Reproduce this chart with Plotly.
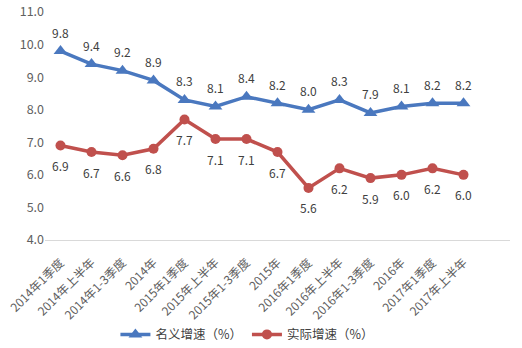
import plotly.graph_objects as go

categories = ["2014年1季度", "2014年上半年", "2014年1-3季度", "2014年",
              "2015年1季度", "2015年上半年", "2015年1-3季度", "2015年",
              "2016年1季度", "2016年上半年", "2016年1-3季度", "2016年",
              "2017年1季度", "2017年上半年"]
nominal = [9.8, 9.4, 9.2, 8.9, 8.3, 8.1, 8.4, 8.2, 8.0, 8.3, 7.9, 8.1, 8.2, 8.2]
real = [6.9, 6.7, 6.6, 6.8, 7.7, 7.1, 7.1, 6.7, 5.6, 6.2, 5.9, 6.0, 6.2, 6.0]
y_ticks = [4.0, 5.0, 6.0, 7.0, 8.0, 9.0, 10.0, 11.0]

FONT = "Noto Sans CJK SC"
BLUE = "#4a78bf"
RED = "#c0504d"
TXT = "#404040"
AXIS_TXT = "#606060"

x_idx = list(range(len(categories)))

fig = go.Figure()
fig.add_trace(go.Scatter(
    x=x_idx, y=nominal, name="名义增速（%）", mode="lines+markers",
    line=dict(color=BLUE, width=3.5),
    marker=dict(symbol="triangle-up", size=12, color=BLUE),
))
fig.add_trace(go.Scatter(
    x=x_idx, y=real, name="实际增速（%）", mode="lines+markers",
    line=dict(color=RED, width=3.5),
    marker=dict(symbol="circle", size=10, color=RED),
))

# value labels: nominal above, real below
for i, v in enumerate(nominal):
    fig.add_annotation(x=i, y=v, text=f"{v:.1f}", showarrow=False, yshift=19,
                       font=dict(family=FONT, size=12, color=TXT))
for i, v in enumerate(real):
    fig.add_annotation(x=i, y=v, text=f"{v:.1f}", showarrow=False, yshift=-20,
                       font=dict(family=FONT, size=12, color=TXT))

fig.update_layout(
    width=522, height=348,
    margin=dict(l=45, r=12, t=12, b=108, autoexpand=False),
    paper_bgcolor="white", plot_bgcolor="white",
    font=dict(family=FONT, size=12, color=AXIS_TXT),
    showlegend=True,
    legend=dict(orientation="h", xref="container", x=0.474, xanchor="center",
                yref="container", y=0.038, yanchor="middle",
                font=dict(family=FONT, size=12.5, color=TXT),
                itemwidth=30, tracegroupgap=0),
    xaxis=dict(
        range=[-0.5, 14.5], tickmode="array", tickvals=x_idx, ticktext=categories,
        tickangle=-45, showgrid=False, zeroline=False, automargin=False,
        showline=True, linecolor="#d9d9d9", linewidth=1, ticks="",
        ticklabelstandoff=10,
        tickfont=dict(family=FONT, size=12, color=AXIS_TXT),
    ),
    yaxis=dict(
        range=[4.0, 11.0], tickmode="array", tickvals=y_ticks,
        ticktext=[f"{v:.1f}" for v in y_ticks], automargin=False,
        showgrid=False, zeroline=False, showline=False, ticks="",
        tickfont=dict(family=FONT, size=12.5, color=AXIS_TXT),
    ),
)

fig.write_html("out.html")
